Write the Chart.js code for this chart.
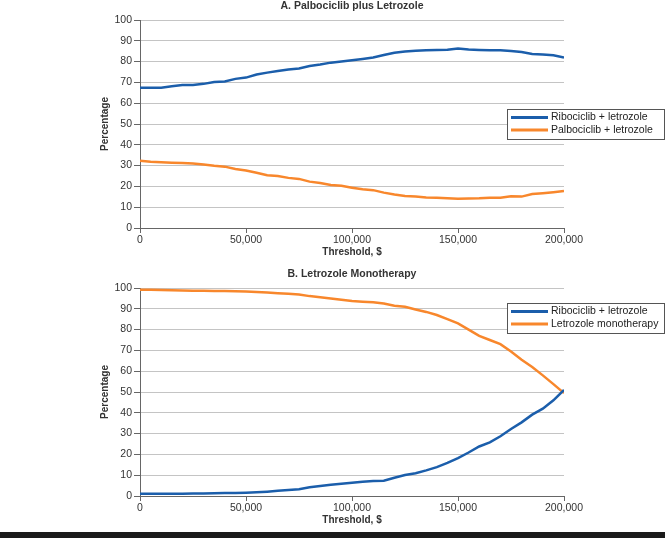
<!DOCTYPE html>
<html>
<head>
<meta charset="utf-8">
<script src="https://cdn.jsdelivr.net/npm/chart.js@4/dist/chart.umd.min.js"></script>
<style>
  body { margin: 0; background: #fff; }
  #wrap { position: relative; width: 665px; height: 538px; overflow: hidden; }
  canvas { position: absolute; left: 0; }
  #chartA { top: 0; }
  #chartB { top: 268px; }
  #bar { position: absolute; left: 0; top: 532px; width: 665px; height: 6px; background: #1a1a1a; }
</style>
</head>
<body>
<div id="wrap">
  <canvas id="chartA" width="665" height="265"></canvas>
  <canvas id="chartB" width="665" height="265"></canvas>
  <div id="bar"></div>
</div>
<script>
// threshold values ($), shared by all series
const thresholds = [
  0, 5000, 10000, 15000, 20000, 25000, 30000, 35000, 40000, 45000,
  50000, 55000, 60000, 65000, 70000, 75000, 80000, 85000, 90000, 95000,
  100000, 105000, 110000, 115000, 120000, 125000, 130000, 135000, 140000, 145000,
  150000, 155000, 160000, 165000, 170000, 175000, 180000, 185000, 190000, 195000,
  200000
];

// panel A
const riboVsPalbo = [
  67.4, 67.4, 67.4, 68.2, 68.7, 68.8, 69.3, 70.2, 70.4, 71.7,
  72.3, 73.8, 74.7, 75.5, 76.2, 76.7, 77.9, 78.6, 79.5, 80.0,
  80.6, 81.3, 82.0, 83.2, 84.3, 84.8, 85.2, 85.5, 85.6, 85.7,
  86.3, 85.8, 85.6, 85.5, 85.5, 85.1, 84.6, 83.7, 83.4, 83.0,
  82.0
];
const palbo = [
  32.3, 31.8, 31.6, 31.4, 31.3, 31.0, 30.5, 29.9, 29.5, 28.4,
  27.6, 26.6, 25.4, 25.0, 24.1, 23.6, 22.3, 21.6, 20.7, 20.3,
  19.4, 18.6, 18.2, 17.0, 16.1, 15.4, 15.1, 14.7, 14.6, 14.3,
  14.1, 14.2, 14.3, 14.6, 14.6, 15.3, 15.1, 16.3, 16.7, 17.2,
  17.8
];

// panel B
const riboVsLet = [
  1.1, 1.1, 1.1, 1.1, 1.1, 1.2, 1.2, 1.3, 1.4, 1.5,
  1.6, 1.8, 2.1, 2.5, 2.9, 3.3, 4.2, 4.8, 5.4, 5.9,
  6.4, 6.9, 7.2, 7.3, 8.8, 10.1, 10.9, 12.3, 13.9, 15.9,
  18.2, 20.9, 23.8, 25.8, 28.7, 32.2, 35.4, 39.1, 42.0, 46.0,
  51.0
];
const letMono = [
  99.2, 99.1, 99.0, 98.9, 98.8, 98.7, 98.7, 98.6, 98.5, 98.4,
  98.3, 98.1, 97.8, 97.5, 97.2, 96.9, 96.1, 95.6, 95.0, 94.3,
  93.7, 93.4, 93.2, 92.5, 91.5, 91.0, 89.7, 88.5, 87.0, 85.0,
  83.0, 80.0, 77.0, 75.0, 73.0, 69.5, 65.5, 62.0, 58.0, 53.8,
  49.5
];

const BLUE = '#1b5eab';
const ORANGE = '#f8872c';
const FONT = '"Liberation Sans", Arial, sans-serif';

function toPoints(values) {
  return thresholds.map((t, i) => ({ x: t, y: values[i] }));
}

// legend box drawn over the plot, like the original
const boxLegend = {
  id: 'boxLegend',
  afterDraw(chart, args, opts) {
    const ctx = chart.ctx;
    ctx.save();
    ctx.fillStyle = '#fff';
    ctx.fillRect(opts.left, opts.top, opts.width, opts.height);
    ctx.strokeStyle = '#555';
    ctx.lineWidth = 1;
    ctx.strokeRect(opts.left + 0.5, opts.top + 0.5, opts.width, opts.height);
    ctx.font = '10.5px ' + FONT;
    ctx.textBaseline = 'middle';
    ctx.fillStyle = '#222';
    chart.data.datasets.forEach((ds, i) => {
      const y = opts.top + 8.5 + i * 12.5;
      ctx.strokeStyle = ds.borderColor;
      ctx.lineWidth = 3;
      ctx.beginPath();
      ctx.moveTo(opts.left + 4, y);
      ctx.lineTo(opts.left + 41, y);
      ctx.stroke();
      ctx.fillText(ds.label, opts.left + 44, y);
    });
    ctx.restore();
  }
};

function makeChart(id, title, sets, legendTop) {
  new Chart(document.getElementById(id), {
    type: 'line',
    plugins: [boxLegend],
    data: {
      datasets: sets.map(s => ({
        label: s.label,
        data: toPoints(s.values),
        borderColor: s.color,
        backgroundColor: s.color,
        borderWidth: 2.5,
        pointRadius: 0,
        tension: 0,
        fill: false
      }))
    },
    options: {
      responsive: false,
      animation: false,
      layout: { padding: { top: 0, left: 0, right: 101, bottom: 0 } },
      scales: {
        x: {
          type: 'linear',
          min: 0,
          max: 200000,
          afterFit: s => { s.height = 37; },
          border: { color: '#666', width: 1 },
          grid: { drawOnChartArea: false, drawTicks: true, tickLength: 5, tickColor: '#666' },
          ticks: {
            stepSize: 50000,
            padding: 1,
            maxRotation: 0,
            color: '#333',
            font: { family: FONT, size: 10.5 },
            callback: v => v.toLocaleString('en-US')
          },
          title: {
            display: true,
            text: 'Threshold, $',
            color: '#333',
            font: { family: FONT, size: 10, weight: 'bold' },
            padding: { top: 0, bottom: 7 }
          }
        },
        y: {
          min: 0,
          max: 100,
          afterFit: s => { s.width = 140; },
          border: { color: '#666', width: 1 },
          grid: { color: '#c4c4c4', tickLength: 6, tickColor: '#666' },
          ticks: {
            stepSize: 10,
            padding: 2,
            color: '#333',
            font: { family: FONT, size: 10.5 }
          },
          title: {
            display: true,
            text: 'Percentage',
            color: '#333',
            font: { family: FONT, size: 10, weight: 'bold' },
            padding: { top: 99, bottom: 0 }
          }
        }
      },
      plugins: {
        legend: { display: false },
        tooltip: { enabled: false },
        title: {
          display: true,
          fullSize: false,
          text: title,
          color: '#333',
          font: { family: FONT, size: 10.5, weight: 'bold' },
          padding: { top: 0, bottom: 7.4 }
        },
        boxLegend: { left: 507, top: legendTop, width: 157, height: 30 }
      }
    }
  });
}

makeChart('chartA', 'A. Palbociclib plus Letrozole', [
  { label: 'Ribociclib + letrozole', values: riboVsPalbo, color: BLUE },
  { label: 'Palbociclib + letrozole', values: palbo, color: ORANGE }
], 109);

makeChart('chartB', 'B. Letrozole Monotherapy', [
  { label: 'Ribociclib + letrozole', values: riboVsLet, color: BLUE },
  { label: 'Letrozole monotherapy', values: letMono, color: ORANGE }
], 35);
</script>
</body>
</html>
